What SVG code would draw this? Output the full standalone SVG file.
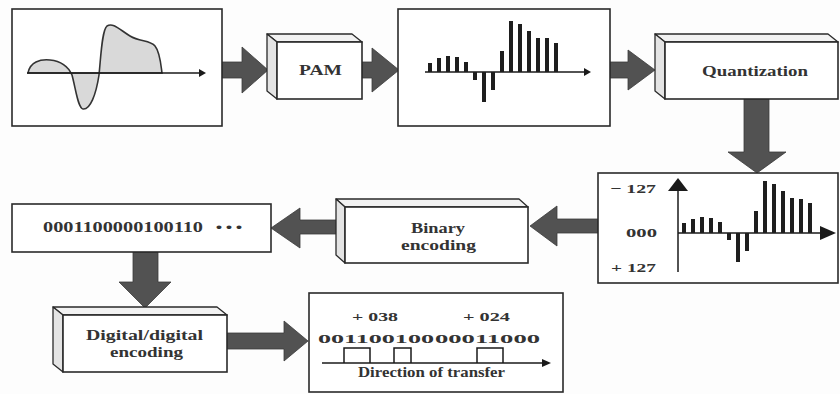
<svg xmlns="http://www.w3.org/2000/svg" width="840" height="394" viewBox="0 0 840 394">
<style>
  .box{fill:#fff;stroke:#2a2a2a;stroke-width:1.6}
  .top{fill:#f2f2f2;stroke:#2a2a2a;stroke-width:1.3;stroke-linejoin:round}
  .side{fill:#e4e4e4;stroke:#2a2a2a;stroke-width:1.3;stroke-linejoin:round}
  .arrow{fill:#525252;stroke:#3a3a3a;stroke-width:0.8}
  .axis{stroke:#1a1a1a;stroke-width:1.5;fill:none}
  .head{fill:#1a1a1a}
  .bar{fill:#1e1e1e}
  .t{font-family:"Liberation Serif","Times New Roman",serif;font-weight:bold;fill:#333}
</style>
<rect x="0" y="0" width="840" height="394" fill="#fdfdfd"/>

<g id="connectors">
  <polygon class="arrow" points="222,62 242,62 242,47 268,70 242,93 242,78 222,78"/>
  <polygon class="arrow" points="362,62 372,62 372,48 399,70 372,92 372,78 362,78"/>
  <polygon class="arrow" points="610,62 628,62 628,50 655,70 628,90 628,78 610,78"/>
  <polygon class="arrow" points="744,99 769,99 769,152 786,152 757,173 728,152 744,152"/>
  <polygon class="arrow" points="598,219 557,219 557,206 530,226 557,246 557,233 598,233"/>
  <polygon class="arrow" points="340,220 300,220 300,208 271,228 300,248 300,234 340,234"/>
  <polygon class="arrow" points="133,252 158,252 158,282 171,282 145,308 119,282 133,282"/>
  <polygon class="arrow" points="227,333 284,333 284,321 308,341 284,361 284,349 227,349"/>
</g>

<g id="analog">
  <rect class="box" x="12" y="9" width="210" height="117"/>
  <path d="M28,73 C30,62 40,59 50,60 C60,61 68,66 72,75 C76,90 78,108 83,109 C90,110 96,95 99,75 C101,55 102,30 107,26 C113,22 120,30 130,36 C140,42 150,40 155,46 C160,52 161,65 162,73 Z" fill="#d9d9d9" stroke="#333" stroke-width="1.6"/>
  <line class="axis" x1="27" y1="73" x2="200" y2="73"/>
  <polygon class="head" points="199,69 206,73 199,77"/>
</g>

<g id="pam">
  <polygon class="top" points="267,34 352,34 362,42 277,42"/>
  <polygon class="side" points="267,34 277,42 277,99 267,91"/>
  <rect class="box" x="277" y="42" width="85" height="57"/>
  <text class="t" x="299" y="75" font-size="14" textLength="43" lengthAdjust="spacingAndGlyphs">PAM</text>
</g>

<g id="samples">
  <rect class="box" x="398" y="9" width="212" height="117"/>
  <line class="axis" x1="425" y1="72" x2="586" y2="72"/>
  <polygon class="head" points="584,68 591,72 584,76"/>
  <rect class="bar" x="428" y="63" width="4" height="9"/>
  <rect class="bar" x="437" y="58" width="4" height="14"/>
  <rect class="bar" x="446" y="56" width="4" height="16"/>
  <rect class="bar" x="455" y="57" width="4" height="15"/>
  <rect class="bar" x="464" y="62" width="4" height="10"/>
  <rect class="bar" x="473" y="72" width="4" height="8"/>
  <rect class="bar" x="482" y="72" width="4" height="30"/>
  <rect class="bar" x="491" y="72" width="4" height="18"/>
  <rect class="bar" x="500" y="51" width="4" height="21"/>
  <rect class="bar" x="509" y="21" width="4" height="51"/>
  <rect class="bar" x="518" y="24" width="4" height="48"/>
  <rect class="bar" x="527" y="31" width="4" height="41"/>
  <rect class="bar" x="536" y="38" width="4" height="34"/>
  <rect class="bar" x="545" y="38" width="4" height="34"/>
  <rect class="bar" x="554" y="43" width="4" height="29"/>
</g>

<g id="quantization">
  <polygon class="top" points="655,34 828,34 838,42 665,42"/>
  <polygon class="side" points="655,34 665,42 665,99 655,91"/>
  <rect class="box" x="665" y="42" width="173" height="57"/>
  <text class="t" x="702" y="76" font-size="15" textLength="106" lengthAdjust="spacingAndGlyphs">Quantization</text>
</g>

<g id="quantized">
  <rect class="box" x="598" y="173" width="240" height="110"/>
  <text class="t" x="610" y="193" font-size="13" textLength="46" lengthAdjust="spacingAndGlyphs">− 127</text>
  <text class="t" x="626" y="237" font-size="13" textLength="31" lengthAdjust="spacingAndGlyphs">000</text>
  <text class="t" x="611" y="272" font-size="13" textLength="45" lengthAdjust="spacingAndGlyphs">+ 127</text>
  <line class="axis" x1="678" y1="272" x2="678" y2="189"/>
  <polygon class="head" points="668,191 678,178 688,191"/>
  <line class="axis" x1="678" y1="233" x2="822" y2="233"/>
  <polygon class="head" points="820,226 836,233 820,240"/>
  <rect class="bar" x="682" y="223" width="4" height="10"/>
  <rect class="bar" x="691" y="219" width="4" height="14"/>
  <rect class="bar" x="700" y="217" width="4" height="16"/>
  <rect class="bar" x="709" y="218" width="4" height="15"/>
  <rect class="bar" x="718" y="222" width="4" height="11"/>
  <rect class="bar" x="727" y="233" width="4" height="7"/>
  <rect class="bar" x="736" y="233" width="4" height="29"/>
  <rect class="bar" x="745" y="233" width="4" height="18"/>
  <rect class="bar" x="754" y="211" width="4" height="22"/>
  <rect class="bar" x="763" y="181" width="4" height="52"/>
  <rect class="bar" x="772" y="184" width="4" height="49"/>
  <rect class="bar" x="781" y="191" width="4" height="42"/>
  <rect class="bar" x="790" y="198" width="4" height="35"/>
  <rect class="bar" x="799" y="199" width="4" height="34"/>
  <rect class="bar" x="808" y="203" width="4" height="30"/>
</g>

<g id="binary">
  <polygon class="top" points="336,199 519,199 528,207 345,207"/>
  <polygon class="side" points="336,199 345,207 345,263 336,255"/>
  <rect class="box" x="345" y="207" width="183" height="56"/>
  <text class="t" x="411" y="233" font-size="15" textLength="54" lengthAdjust="spacingAndGlyphs">Binary</text>
  <text class="t" x="401" y="250" font-size="15" textLength="75" lengthAdjust="spacingAndGlyphs">encoding</text>
</g>

<g id="bitstream">
  <rect class="box" x="12" y="204" width="259" height="48"/>
  <text class="t" x="43" y="232" font-size="14" textLength="160" lengthAdjust="spacingAndGlyphs">0001100000100110</text>
  <text class="t" x="214" y="234" font-size="20" textLength="30" lengthAdjust="spacingAndGlyphs">···</text>
</g>

<g id="digital">
  <polygon class="top" points="53,307 217,307 227,315 63,315"/>
  <polygon class="side" points="53,307 63,315 63,372 53,364"/>
  <rect class="box" x="63" y="315" width="164" height="57"/>
  <text class="t" x="86" y="340" font-size="14" textLength="117" lengthAdjust="spacingAndGlyphs">Digital/digital</text>
  <text class="t" x="110" y="357" font-size="14" textLength="73" lengthAdjust="spacingAndGlyphs">encoding</text>
</g>

<g id="linecode">
  <rect class="box" x="309" y="293" width="254" height="99"/>
  <text class="t" x="352" y="321" font-size="13" textLength="46" lengthAdjust="spacingAndGlyphs">+ 038</text>
  <text class="t" x="463" y="321" font-size="13" textLength="47" lengthAdjust="spacingAndGlyphs">+ 024</text>
  <text class="t" x="318" y="343" font-size="12" textLength="116" lengthAdjust="spacingAndGlyphs">001100100</text>
  <text class="t" x="435" y="343" font-size="12.5" textLength="105" lengthAdjust="spacingAndGlyphs" fill="#222">00011000</text>
  <polyline fill="none" stroke="#1a1a1a" stroke-width="1.5" points="344,363 344,348 370,348 370,363"/>
  <polyline fill="none" stroke="#1a1a1a" stroke-width="1.5" points="394,363 394,348 411,348 411,363"/>
  <polyline fill="none" stroke="#1a1a1a" stroke-width="1.5" points="477,363 477,348 503,348 503,363"/>
  <line class="axis" x1="322" y1="363" x2="544" y2="363"/>
  <polygon class="head" points="542,359 551,363 542,367"/>
  <text class="t" x="358" y="377" font-size="14" textLength="147" lengthAdjust="spacingAndGlyphs">Direction of transfer</text>
</g>
</svg>
